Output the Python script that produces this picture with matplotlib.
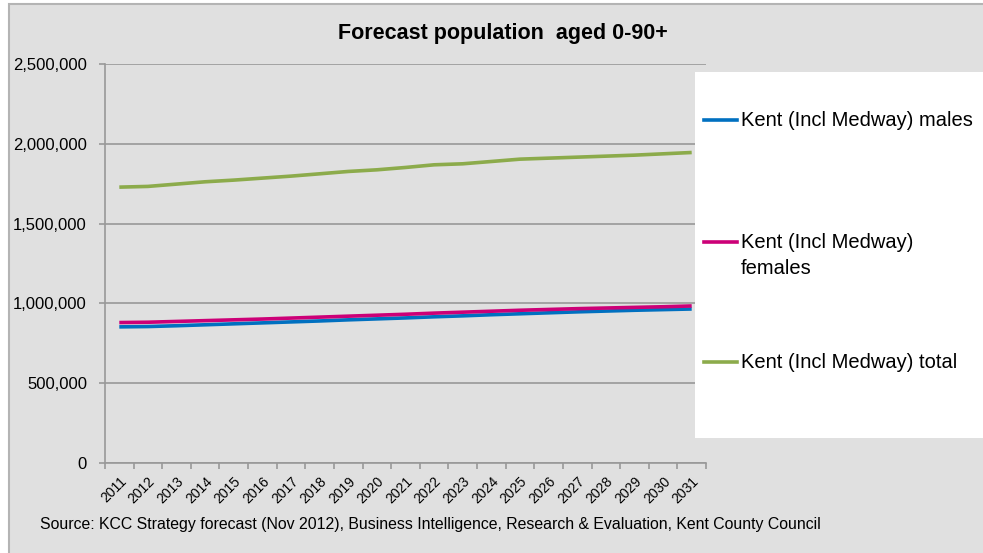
import matplotlib
matplotlib.use('Agg')
import matplotlib.pyplot as plt
from matplotlib.lines import Line2D
from matplotlib.patches import Rectangle
from matplotlib.ticker import FuncFormatter

# データ
years = [str(y) for y in range(2011, 2032)]
males = [853000, 855000, 860000, 866000, 872000, 878000, 884000, 890000, 897000, 903000,
         909000, 916000, 922000, 929000, 935000, 941000, 947000, 952000, 957000, 961000, 965000]
females = [880000, 882000, 887000, 892000, 897000, 902000, 908000, 914000, 920000, 926000,
           932000, 939000, 945000, 951000, 957000, 962000, 967000, 971000, 975000, 979000, 984000]
total = [1728500, 1733000, 1747500, 1762000, 1772500, 1785000, 1797500, 1812000, 1826700, 1837000,
         1851700, 1868400, 1874700, 1889200, 1903800, 1910100, 1916300, 1922600, 1928900, 1937200, 1945500]

labels = [['Kent (Incl Medway) males'], ['Kent (Incl Medway)', 'females'], ['Kent (Incl Medway) total']]
colors = ['#0070C0', '#CC0077', '#8CAB4B']
title = 'Forecast population  aged 0-90+'
source = ('Source: KCC Strategy forecast (Nov 2012), Business Intelligence, '
          'Research & Evaluation, Kent County Council')

plt.rcParams['font.family'] = ['Liberation Sans', 'DejaVu Sans']

W, H = 983, 553
fig = plt.figure(figsize=(W / 100, H / 100), dpi=100, facecolor='white')


def fx(px):
    return px / W


def fy(py):
    return 1 - py / H


# 外枠（灰色の背景）
fig.patches.append(Rectangle((fx(9), fy(560)), fx(990), 556 / H, transform=fig.transFigure,
                             facecolor='#E0E0E0', edgecolor='#B4B4B4', linewidth=1.5, zorder=-2))
# 凡例の白い背景（プロット領域の上に重ねる）
fig.patches.append(Rectangle((fx(695), fy(438)), fx(300), (438 - 72) / H, transform=fig.transFigure,
                             facecolor='white', edgecolor='none', zorder=3))

ax = fig.add_axes([fx(105), fy(463), fx(601), 399 / H])
ax.set_facecolor('none')
ax.set_zorder(2)

x = list(range(len(years)))
for series, c in zip([males, females, total], colors):
    ax.plot(x, series, color=c, linewidth=2.6, solid_capstyle='butt', zorder=3)

ax.set_xlim(-0.5, len(years) - 0.5)
ax.set_ylim(0, 2500000)
ax.set_yticks(range(0, 2500001, 500000))
ax.yaxis.set_major_formatter(FuncFormatter(lambda v, p: f'{v:,.0f}'))
ax.grid(axis='y', color='#999999', linewidth=1.2, zorder=1)
ax.set_axisbelow(True)

for s in ['top', 'right']:
    ax.spines[s].set_visible(False)
for s in ['left', 'bottom']:
    ax.spines[s].set_color('#999999')
    ax.spines[s].set_linewidth(1.2)

ax.tick_params(axis='y', length=4, width=1.2, color='#999999', pad=9, labelsize=12, labelcolor='black')
ax.set_xticks(x)
ax.set_xticklabels(years, rotation=45, ha='right', va='top', rotation_mode='anchor', fontsize=10)
ax.set_xticks([i - 0.5 for i in range(len(years) + 1)], minor=True)
ax.tick_params(axis='x', which='major', length=0, pad=8)
ax.tick_params(axis='x', which='minor', length=4, width=1.2, color='#999999')

fig.text(fx(503), fy(34), title, ha='center', va='center', fontsize=15.5, fontweight='bold')
fig.text(fx(40), fy(525), source, ha='left', va='center', fontsize=11.4)

# 凡例（手動）
legend_y = [120, 242, 362]
for lines, c, yy in zip(labels, colors, legend_y):
    fig.add_artist(Line2D([fx(704), fx(737)], [fy(yy), fy(yy)], transform=fig.transFigure,
                          color=c, linewidth=2.6, zorder=4))
    for k, line in enumerate(lines):
        fig.text(fx(741), fy(yy + 27 * k), line, ha='left', va='center',
                 fontsize=14.5, zorder=4)

fig.savefig('out.png', dpi=100, facecolor=fig.get_facecolor())
